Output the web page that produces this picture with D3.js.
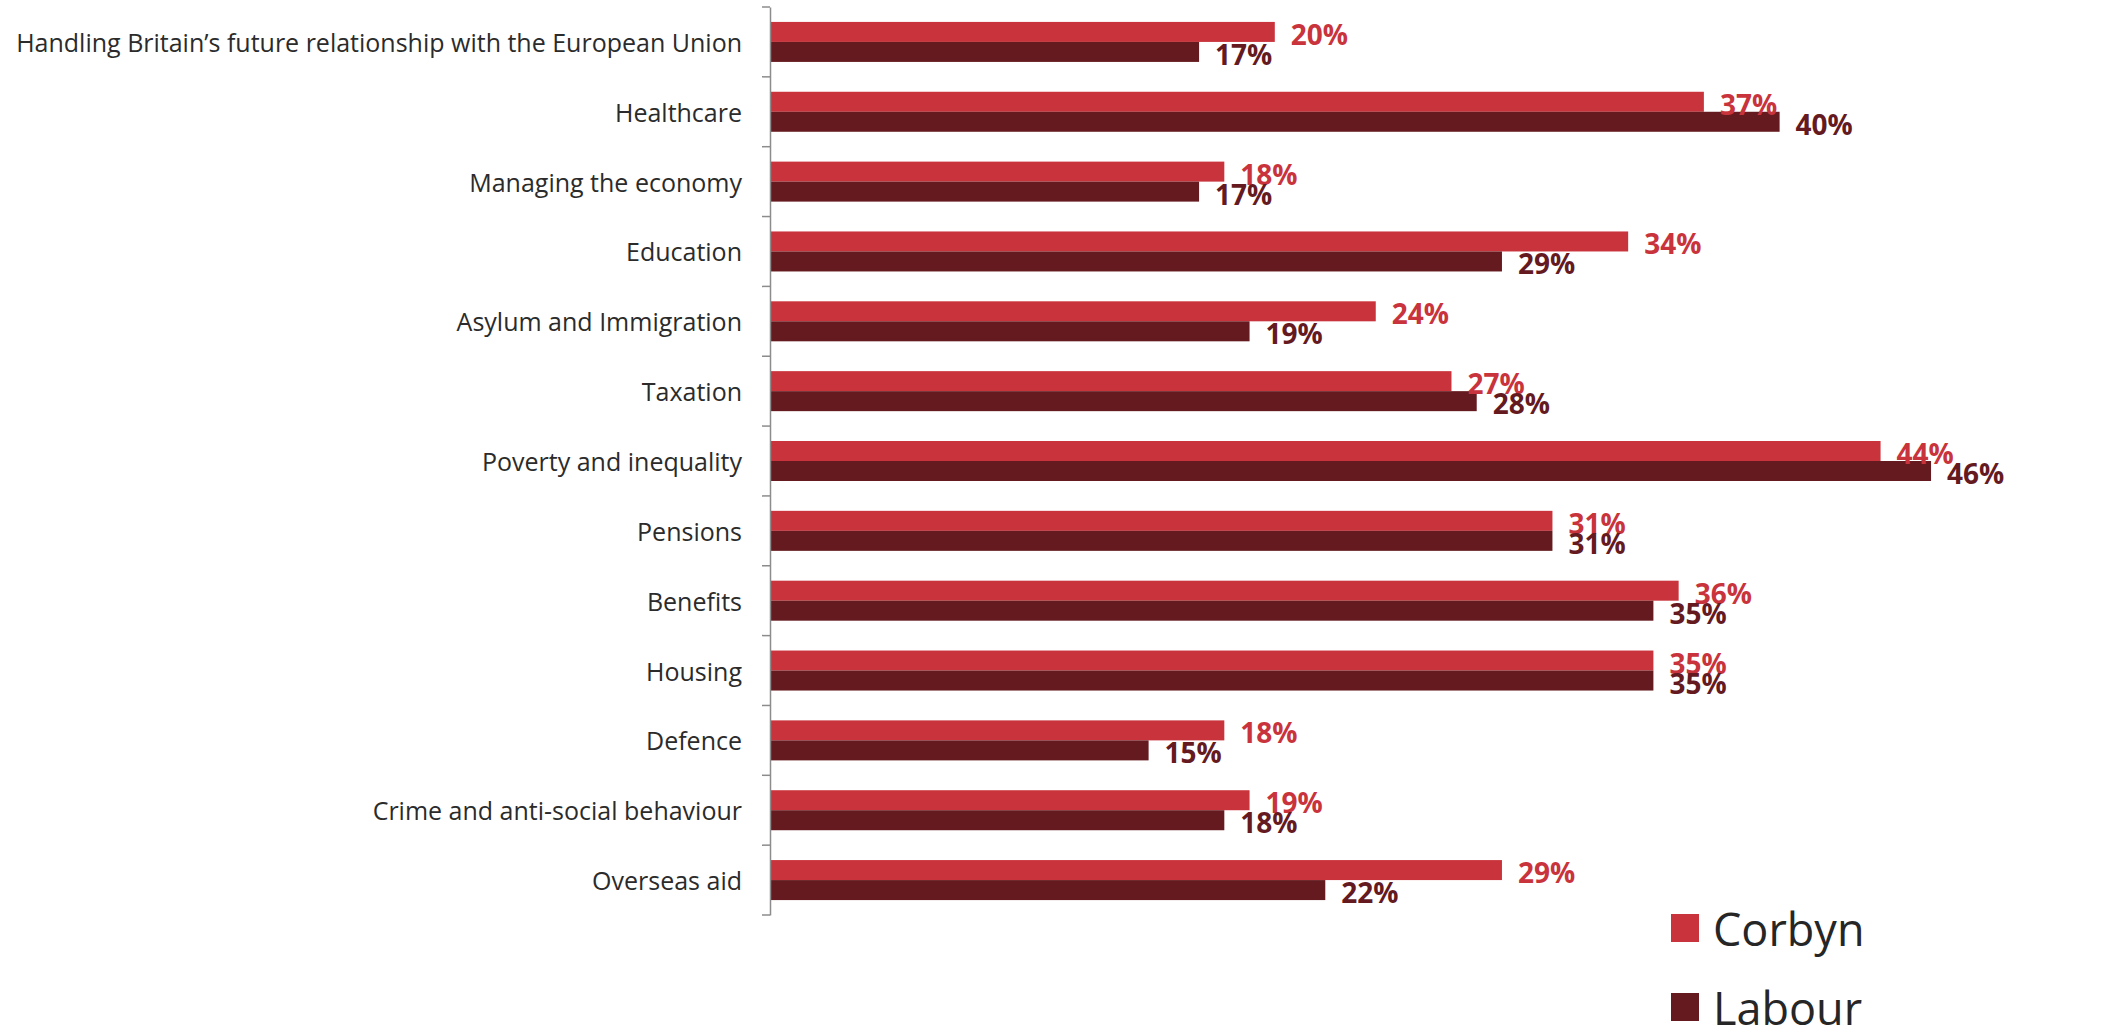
<!DOCTYPE html>
<html>
<head>
<meta charset="utf-8">
<script src="https://cdn.jsdelivr.net/npm/d3@7"></script>
<style>
  html, body { margin: 0; padding: 0; background: #fff; }
  svg { display: block; }
</style>
</head>
<body>
<svg id="chart" width="2107" height="1027"></svg>
<script>
const categories = [
  "Handling Britain\u2019s future relationship with the European Union",
  "Healthcare",
  "Managing the economy",
  "Education",
  "Asylum and Immigration",
  "Taxation",
  "Poverty and inequality",
  "Pensions",
  "Benefits",
  "Housing",
  "Defence",
  "Crime and anti-social behaviour ",
  "Overseas aid"
];
const corbyn = [20, 37, 18, 34, 24, 27, 44, 31, 36, 35, 18, 19, 29];
const labour = [17, 40, 17, 29, 19, 28, 46, 31, 35, 35, 15, 18, 22];
const seriesNames = ["Corbyn", "Labour"];
const seriesColors = ["#C9333B", "#641A1F"];

const svg = d3.select("#chart");
const font = "'Open Sans', 'Noto Sans', sans-serif";

const x = d3.scaleLinear().domain([0, 50]).range([770, 2032]);
const y = d3.scaleBand().domain(categories).range([7, 915]).padding(0);
const barH = 20;

const series = [corbyn, labour];

// bars
series.forEach((vals, si) => {
  svg.append("g").selectAll("rect")
    .data(categories)
    .join("rect")
    .attr("x", x(0))
    .attr("y", d => y(d) + y.bandwidth() / 2 - barH + si * barH)
    .attr("width", (d, i) => x(vals[i]) - x(0))
    .attr("height", barH)
    .attr("fill", seriesColors[si]);
});

// axis
const axis = d3.axisLeft(y).tickSize(0).tickFormat("");
const gAxis = svg.append("g").attr("transform", `translate(${x(0)},0)`).call(axis);
gAxis.select(".domain").attr("stroke", "#8c8c8c").attr("stroke-width", 1.5);
// boundary ticks
const bounds = categories.map(c => y(c)).concat([y.range()[1]]);
svg.append("g").selectAll("line")
  .data(bounds)
  .join("line")
  .attr("x1", x(0) - 8).attr("x2", x(0))
  .attr("y1", d => d).attr("y2", d => d)
  .attr("stroke", "#8c8c8c").attr("stroke-width", 1.5);

// category labels
svg.append("g").selectAll("text")
  .data(categories)
  .join("text")
  .attr("x", 742)
  .attr("y", d => y(d) + y.bandwidth() / 2)
  .attr("text-anchor", "end")
  .attr("dominant-baseline", "central")
  .attr("font-family", font)
  .attr("font-size", 25)
  .attr("fill", "#2b2b2b")
  .text(d => d);

// value labels
series.forEach((vals, si) => {
  svg.append("g").selectAll("text")
    .data(categories)
    .join("text")
    .attr("x", (d, i) => x(vals[i]) + 16)
    .attr("y", d => y(d) + y.bandwidth() / 2 - barH / 2 + si * barH + 2)
    .attr("dominant-baseline", "central")
    .attr("font-family", font)
    .attr("font-weight", "bold")
    .attr("font-size", 28)
    .attr("fill", seriesColors[si])
    .text((d, i) => vals[i] + "%");
});

// legend
const leg = svg.append("g");
seriesNames.forEach((n, i) => {
  const yy = 914 + i * 79;
  leg.append("rect").attr("x", 1671).attr("y", yy).attr("width", 28).attr("height", 28).attr("fill", seriesColors[i]);
  leg.append("text").attr("x", 1713).attr("y", yy + 14)
    .attr("dominant-baseline", "central")
    .attr("font-family", font).attr("font-size", 45).attr("fill", "#262626")
    .text(n);
});
</script>
</body>
</html>
